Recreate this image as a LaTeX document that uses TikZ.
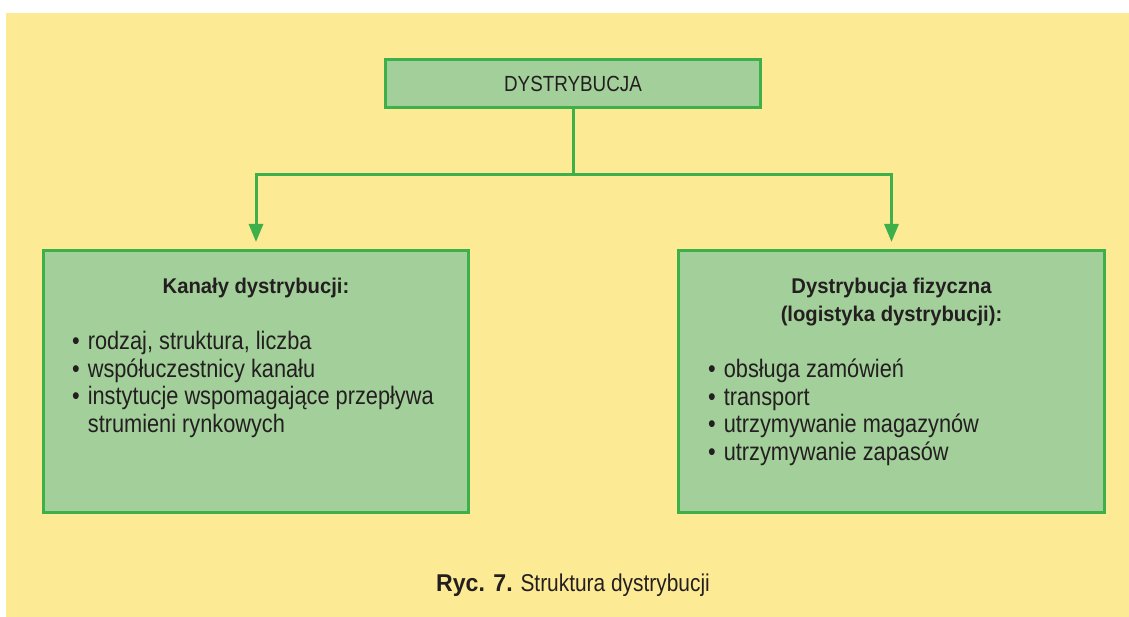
\documentclass[tikz,border=0pt]{standalone}
\usepackage{fontspec}
\setmainfont{Liberation Sans}[FakeStretch=0.86, BoldFeatures={FakeStretch=0.95}]
\usetikzlibrary{arrows.meta, positioning}

\definecolor{tlo}{HTML}{FDEA94}
\definecolor{ramka}{HTML}{3DB049}
\definecolor{wypel}{HTML}{A3CF9A}
\definecolor{tekst}{HTML}{231F20}

\tikzset{
  pole/.style = {draw=ramka, fill=wypel, line width=3pt, inner sep=0pt, text=tekst},
  punkt/.style = {inner sep=0pt, anchor=base west, text=tekst,
    font=\fontsize{25.3}{27.7}\selectfont},
  naglowek/.style = {inner sep=0pt, anchor=base, text=tekst,
    font=\fontsize{21.3}{27.7}\selectfont\bfseries},
  linia/.style = {draw=ramka, line width=3pt},
  strzalka/.style = {linia, shorten >=7pt, -{Triangle[length=18pt,width=14pt]}}
}

\begin{document}
\begin{tikzpicture}[x=1pt, y=-1pt]

  % Background
  \useasboundingbox (0,0) rectangle (1129,617);
  \fill[tlo] (6,13) rectangle (1129,617);

  % Boxes
  \node[pole, minimum width=375pt, minimum height=48pt,
        font=\fontsize{21.9}{24}\selectfont] (top) at (573,83.5) {DYSTRYBUCJA};
  \node[pole, minimum width=425pt, minimum height=262pt] (kanaly) at (256,381.5) {};
  \node[pole, minimum width=426pt, minimum height=262pt] (fiz) at (891.5,381.5) {};

  % Connectors
  \coordinate (rozgal) at (573,175);
  \draw[linia] (top.south) -- (rozgal);
  \draw[strzalka] (rozgal) -| (kanaly.north);
  \draw[strzalka] (rozgal) -| (fiz.north);

  % Left box text
  \node[naglowek] (kanalyTyt) at (256,293.3) {Kanały dystrybucji:};
  \node[punkt] (k1) at (72,349.3) {\textbullet\hspace{8pt}rodzaj, struktura, liczba};
  \node[punkt] (k2) at (72,377) {\textbullet\hspace{8pt}współuczestnicy kanału};
  \node[punkt] (k3) at (72,404.5) {\textbullet\hspace{8pt}instytucje wspomagające przepływa};
  \node[punkt] (k4) at (87.7,432.3) {strumieni rynkowych};

  % Right box text
  \node[naglowek] (fizTyt1) at (891.5,294) {Dystrybucja fizyczna};
  \node[naglowek] (fizTyt2) at (891.5,321.7) {(logistyka dystrybucji):};
  \node[punkt] (f1) at (708,377) {\textbullet\hspace{8pt}obsługa zamówień};
  \node[punkt] (f2) at (708,405) {\textbullet\hspace{8pt}transport};
  \node[punkt] (f3) at (708,432.7) {\textbullet\hspace{8pt}utrzymywanie magazynów};
  \node[punkt] (f4) at (708,460.7) {\textbullet\hspace{8pt}utrzymywanie zapasów};

  % Caption
  \node[inner sep=0pt, anchor=base, text=tekst, font=\fontsize{24.3}{26}\selectfont]
    (podpis) at (573,591) {\textbf{Ryc. 7.} Struktura dystrybucji};

\end{tikzpicture}
\end{document}
